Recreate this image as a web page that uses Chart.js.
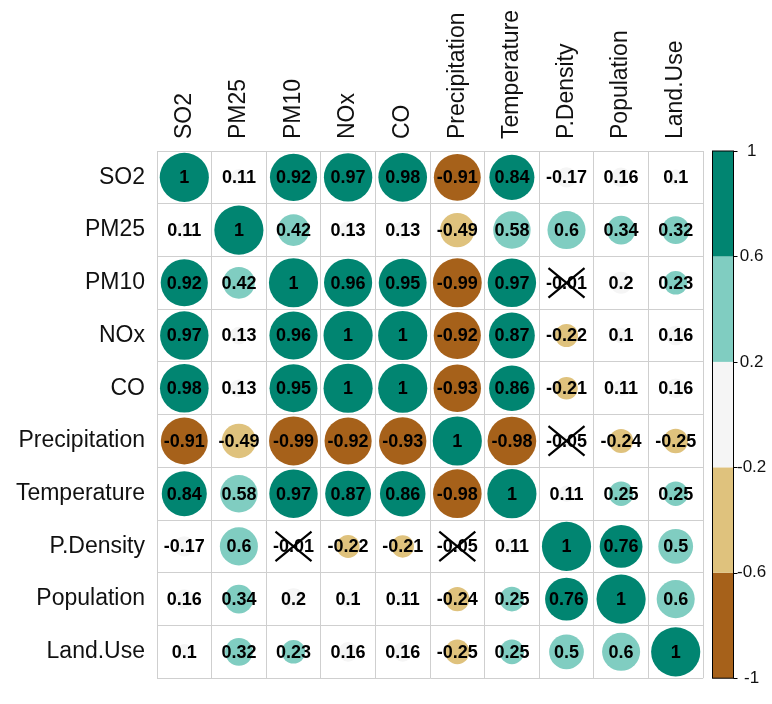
<!DOCTYPE html>
<html>
<head>
<meta charset="utf-8">
<script src="https://cdn.jsdelivr.net/npm/chart.js@4/dist/chart.umd.min.js"></script>
<style>
  html, body { margin: 0; padding: 0; background: #ffffff; }
  canvas { display: block; }
</style>
</head>
<body>
<canvas id="corr" width="772" height="704"></canvas>
<script>
// Variables (row and column order of the matrix)
const variables = ['SO2', 'PM25', 'PM10', 'NOx', 'CO', 'Precipitation', 'Temperature', 'P.Density', 'Population', 'Land.Use'];

// Correlation coefficients, one row per variable
const rowSO2           = [1, 0.11, 0.92, 0.97, 0.98, -0.91, 0.84, -0.17, 0.16, 0.1];
const rowPM25          = [0.11, 1, 0.42, 0.13, 0.13, -0.49, 0.58, 0.6, 0.34, 0.32];
const rowPM10          = [0.92, 0.42, 1, 0.96, 0.95, -0.99, 0.97, -0.01, 0.2, 0.23];
const rowNOx           = [0.97, 0.13, 0.96, 1, 1, -0.92, 0.87, -0.22, 0.1, 0.16];
const rowCO            = [0.98, 0.13, 0.95, 1, 1, -0.93, 0.86, -0.21, 0.11, 0.16];
const rowPrecipitation = [-0.91, -0.49, -0.99, -0.92, -0.93, 1, -0.98, -0.05, -0.24, -0.25];
const rowTemperature   = [0.84, 0.58, 0.97, 0.87, 0.86, -0.98, 1, 0.11, 0.25, 0.25];
const rowPDensity      = [-0.17, 0.6, -0.01, -0.22, -0.21, -0.05, 0.11, 1, 0.76, 0.5];
const rowPopulation    = [0.16, 0.34, 0.2, 0.1, 0.11, -0.24, 0.25, 0.76, 1, 0.6];
const rowLandUse       = [0.1, 0.32, 0.23, 0.16, 0.16, -0.25, 0.25, 0.5, 0.6, 1];

const corrRows = [rowSO2, rowPM25, rowPM10, rowNOx, rowCO, rowPrecipitation,
                  rowTemperature, rowPDensity, rowPopulation, rowLandUse];

// Pairs whose correlation is not significant (crossed out)
const insignificant = [
  ['PM10', 'P.Density'], ['P.Density', 'PM10'],
  ['Precipitation', 'P.Density'], ['P.Density', 'Precipitation']
];

// Colour key: bin edges and bin colours (BrBG, 5 classes)
const colorTicks = [-1, -0.6, -0.2, 0.2, 0.6, 1];
const colorBins  = ['#A6611A', '#DFC27D', '#F5F5F5', '#80CDC1', '#018571'];

const FONT = '"Liberation Sans", Arial, Helvetica, sans-serif';
const AXIS_FONT_SIZE = 23;
const AXIS_LINE_HEIGHT = 1.2;

// Layout: canvas width, left label column, colour key column
const CANVAS_W = 772;
const LEFT_AXIS_W = 157;
const KEY_W = 69;
const TOP_AXIS_H = 151;
const CELL_PX = (CANVAS_W - LEFT_AXIS_W - KEY_W) / variables.length;

function binColor(v) {
  for (let i = 0; i < colorBins.length; i++) {
    if (v <= colorTicks[i + 1] + 1e-9) return colorBins[i];
  }
  return colorBins[colorBins.length - 1];
}

function isInsignificant(r, c) {
  return insignificant.some(p => p[0] === r && p[1] === c);
}

// Circle radius: proportional to sqrt(|r|), full circle = 0.9 of a cell
function circleRadius(v) {
  return Math.sqrt(Math.abs(v)) * 0.45 * CELL_PX;
}

// One bubble per cell
const cells = [];
variables.forEach((rowName, ri) => {
  variables.forEach((colName, ci) => {
    const v = corrRows[ri][ci];
    cells.push({ x: colName, y: rowName, r: circleRadius(v), v: v, cross: isInsignificant(rowName, colName) });
  });
});

// Numbers and crosses drawn on top of the circles
const cellLabels = {
  id: 'cellLabels',
  afterDatasetsDraw(chart) {
    const ctx = chart.ctx;
    const meta = chart.getDatasetMeta(0);
    const data = chart.data.datasets[0].data;
    const cw = chart.scales.x.width / variables.length;
    const ch = chart.scales.y.height / variables.length;
    ctx.save();
    ctx.font = 'bold 18px ' + FONT;
    ctx.textAlign = 'center';
    ctx.textBaseline = 'middle';
    ctx.fillStyle = '#000000';
    meta.data.forEach((el, i) => {
      const d = data[i];
      ctx.fillText(String(d.v), el.x, el.y + 1);
      if (d.cross) {
        const hx = cw * 0.33, hy = ch * 0.28;
        ctx.strokeStyle = '#000000';
        ctx.lineWidth = 2.2;
        ctx.beginPath();
        ctx.moveTo(el.x - hx, el.y - hy); ctx.lineTo(el.x + hx, el.y + hy);
        ctx.moveTo(el.x + hx, el.y - hy); ctx.lineTo(el.x - hx, el.y + hy);
        ctx.stroke();
      }
    });
    ctx.restore();
  }
};

// Colour key bar placed on the colour scale
const colorKey = {
  id: 'colorKey',
  afterDraw(chart) {
    const s = chart.scales.cb;
    const ctx = chart.ctx;
    const x0 = s.left + 9.5, x1 = s.left + 30.5;
    ctx.save();
    for (let i = 0; i < colorBins.length; i++) {
      const yTop = s.getPixelForValue(colorTicks[i + 1]);
      const yBot = s.getPixelForValue(colorTicks[i]);
      ctx.fillStyle = colorBins[i];
      ctx.fillRect(x0, yTop, x1 - x0, yBot - yTop);
    }
    ctx.strokeStyle = '#000000';
    ctx.lineWidth = 1;
    const top = s.getPixelForValue(1), bot = s.getPixelForValue(-1);
    ctx.strokeRect(x0, top, x1 - x0, bot - top);
    ctx.beginPath();
    colorTicks.forEach(t => {
      const y = Math.round(s.getPixelForValue(t)) + 0.5;
      ctx.moveTo(x1, y); ctx.lineTo(x1 + 4, y);
    });
    ctx.stroke();
    ctx.restore();
  }
};

new Chart(document.getElementById('corr'), {
  type: 'bubble',
  data: {
    datasets: [{
      data: cells,
      backgroundColor: ctx => (ctx.raw ? binColor(ctx.raw.v) : colorBins[2]),
      borderWidth: 0
    }]
  },
  options: {
    responsive: false,
    animation: false,
    events: [],
    layout: { padding: { top: 0, right: 0, bottom: 7, left: 0 } },
    plugins: {
      legend: { display: false },
      tooltip: { enabled: false }
    },
    scales: {
      x: {
        type: 'category',
        labels: variables,
        position: 'top',
        offset: true,
        grid: { offset: true, color: '#cfcfcf', lineWidth: 1, drawTicks: false },
        border: { color: '#cfcfcf' },
        ticks: {
          autoSkip: false,
          minRotation: 90,
          maxRotation: 90,
          padding: 12,
          labelOffset: AXIS_FONT_SIZE * AXIS_LINE_HEIGHT,
          color: '#111111',
          font: { family: FONT, size: AXIS_FONT_SIZE, lineHeight: AXIS_LINE_HEIGHT }
        },
        afterFit(scale) { scale.height = TOP_AXIS_H; }
      },
      y: {
        type: 'category',
        labels: variables,
        position: 'left',
        offset: true,
        grid: { offset: true, color: '#cfcfcf', lineWidth: 1, drawTicks: false },
        border: { color: '#cfcfcf' },
        ticks: {
          autoSkip: false,
          padding: 12,
          color: '#111111',
          font: { family: FONT, size: AXIS_FONT_SIZE, lineHeight: AXIS_LINE_HEIGHT }
        },
        afterFit(scale) { scale.width = LEFT_AXIS_W; }
      },
      cb: {
        type: 'linear',
        position: 'right',
        min: -1,
        max: 1,
        afterBuildTicks(scale) { scale.ticks = colorTicks.map(v => ({ value: v })); },
        grid: { drawOnChartArea: false, drawTicks: true, tickLength: 32, color: 'rgba(0,0,0,0)' },
        border: { display: false },
        ticks: {
          padding: 2,
          crossAlign: 'center',
          color: '#111111',
          font: { family: FONT, size: 17 },
          callback: v => String(v)
        },
        afterFit(scale) { scale.width = KEY_W; }
      }
    }
  },
  plugins: [cellLabels, colorKey]
});
</script>
</body>
</html>
